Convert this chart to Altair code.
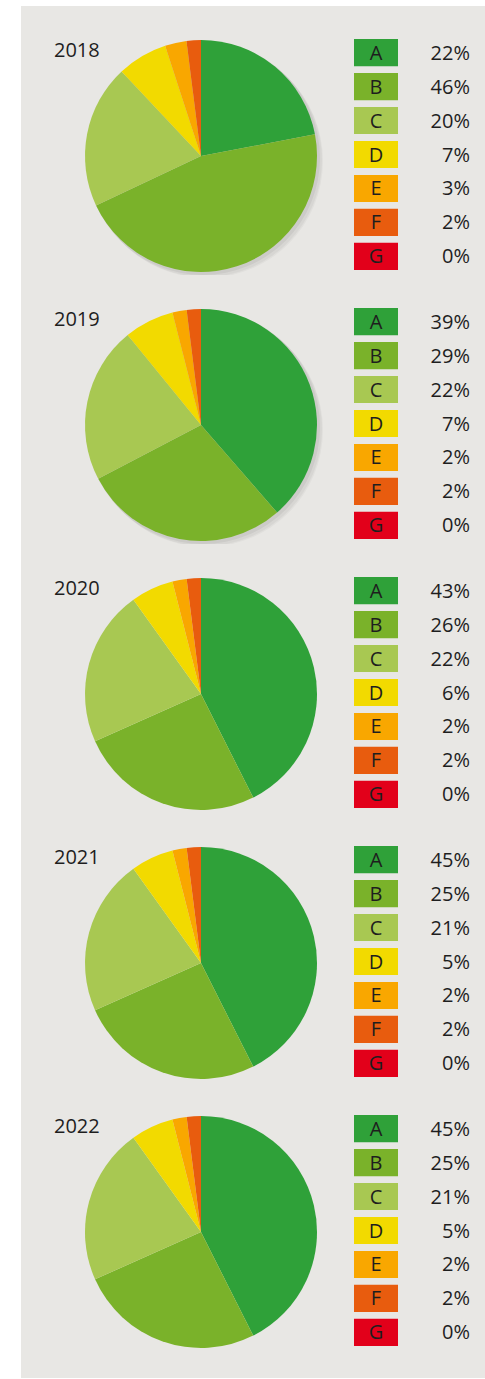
import altair as alt
import pandas as pd

years = [2018, 2019, 2020, 2021, 2022]
classes = ["A", "B", "C", "D", "E", "F", "G"]
colors = ["#2fa139", "#7ab22a", "#a8c852", "#f2da00", "#f9a700", "#e85c0e", "#e2001a"]

# percentages printed next to the legend boxes
labels_2018 = [22, 46, 20, 7, 3, 2, 0]
labels_2019 = [39, 29, 22, 7, 2, 2, 0]
labels_2020 = [43, 26, 22, 6, 2, 2, 0]
labels_2021 = [45, 25, 21, 5, 2, 2, 0]
labels_2022 = [45, 25, 21, 5, 2, 2, 0]

# slice sizes as drawn in the pies (2021 and 2022 pies are drawn like 2020)
pie_2018 = [22, 46, 20, 7, 3, 2, 0]
pie_2019 = [39, 29, 22, 7, 2, 2, 0]
pie_2020 = [43, 26, 22, 6, 2, 2, 0]
pie_2021 = [43, 26, 22, 6, 2, 2, 0]
pie_2022 = [43, 26, 22, 6, 2, 2, 0]

labels = {2018: labels_2018, 2019: labels_2019, 2020: labels_2020,
          2021: labels_2021, 2022: labels_2022}
pies = {2018: pie_2018, 2019: pie_2019, 2020: pie_2020,
        2021: pie_2021, 2022: pie_2022}
shadow_years = [2018, 2019]

rows = []
for yr in years:
    for i, c in enumerate(classes):
        rows.append(dict(year=yr, cls=c, idx=i, value=pies[yr][i],
                         label=f"{labels[yr][i]}%"))
df = pd.DataFrame(rows)

BG = "#e8e7e4"
FONT = "Open Sans"
TXT = "#1e1e1e"
row_heights = [269, 269, 269, 269, 296]
W = 464
cx, cy, R = 180, 150, 116

color = alt.Color("cls:N", scale=alt.Scale(domain=classes, range=colors), legend=None)
ypos = alt.Y("cls:N",
             scale=alt.Scale(domain=classes, range=[33, 264], paddingInner=0.2, paddingOuter=0),
             axis=None)

charts = []
for yr, h in zip(years, row_heights):
    layers = []
    if yr in shadow_years:
        for off, rad, op in [(5, 117, 0.03), (4, 117, 0.04), (2, 117, 0.05)]:
            layers.append(
                alt.Chart().mark_arc(radius=rad, theta=0, theta2=6.2832, color="#000000",
                                     opacity=op, clip=True)
                .encode(x=alt.value(cx + off), y=alt.value(cy + off))
                .transform_filter(alt.datum.idx == 0)
            )
    pie = alt.Chart().mark_arc(radius=R, strokeWidth=0).encode(
        theta=alt.Theta("value:Q", stack=True),
        color=color,
        order=alt.Order("idx:Q"),
        x=alt.value(cx),
        y=alt.value(cy),
    )
    year_lbl = alt.Chart().mark_text(align="left", baseline="alphabetic", font=FONT,
                                     fontSize=20, color=TXT).encode(
        x=alt.value(33), y=alt.value(51), text=alt.Text("year:N")
    ).transform_filter(alt.datum.idx == 0)
    boxes = alt.Chart().mark_rect().encode(
        x=alt.value(333), x2=alt.value(377), y=ypos, color=color
    )
    letters = alt.Chart().mark_text(font=FONT, fontSize=20, color=TXT, baseline="middle", dy=1).encode(
        x=alt.value(355), y=ypos, text="cls:N"
    )
    pct = alt.Chart().mark_text(font=FONT, fontSize=20, color=TXT, align="right",
                                baseline="middle", dy=1).encode(
        x=alt.value(449), y=ypos, text="label:N"
    )
    layers += [pie, year_lbl, boxes, letters, pct]
    ch = alt.layer(*layers, data=df).transform_filter(alt.datum.year == yr).properties(
        width=W, height=h
    )
    charts.append(ch)

chart = alt.vconcat(*charts, spacing=0).properties(
    padding={"left": 21, "top": 6, "right": 0, "bottom": 1},
    background="white",
).configure_view(fill=BG, strokeWidth=0).configure_concat(spacing=0)

chart.save("out.html", embed_options={"renderer": "svg", "actions": False})
